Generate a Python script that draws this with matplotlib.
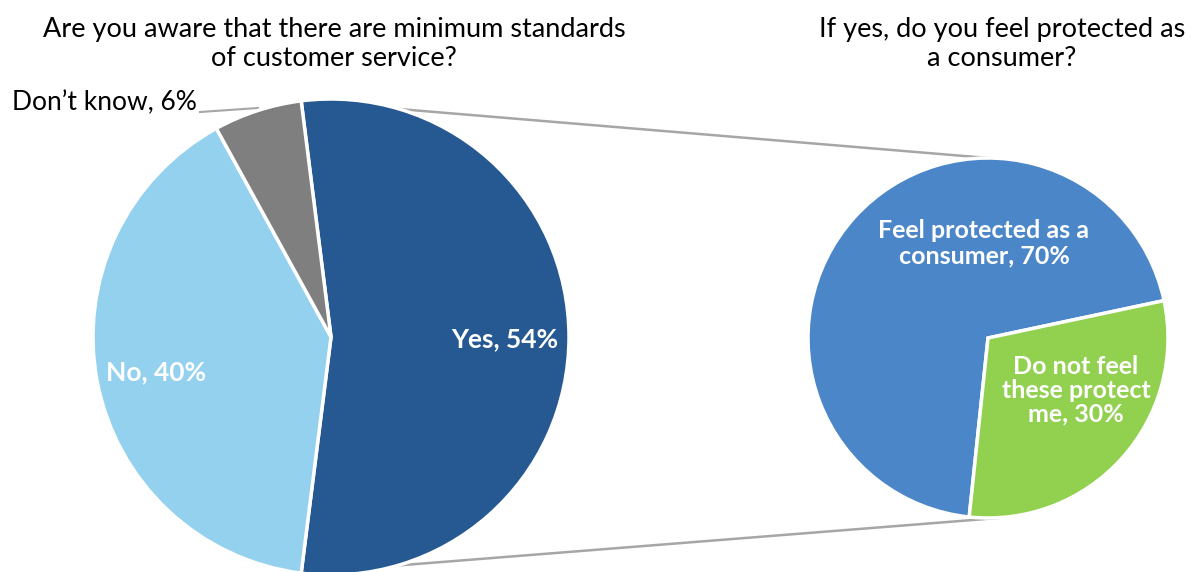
import matplotlib.pyplot as plt
import numpy as np

# main pie
main_labels = ["Yes, 54%", "No, 40%", "Don\u2019t know, 6%"]
main_values = [54, 40, 6]
main_colors = ["#265892", "#93d1ee", "#7f7f7f"]

# breakdown of "Yes"
sub_labels = ["Feel protected as a\nconsumer, 70%", "Do not feel\nthese protect\nme, 30%"]
sub_values = [70, 30]
sub_colors = ["#4a86c8", "#92d050"]

plt.rcParams['font.family'] = ['Lato', 'DejaVu Sans']

W, H = 1192, 572
fig = plt.figure(figsize=(W / 100, H / 100), dpi=100)
ax = fig.add_axes([0, 0, 1, 1])

c1 = (331, H - 337)
r1 = 238
c2 = (988, H - 338)
r2 = 180

yes_half = main_values[0] / 100 * 360 / 2

wedges1, _ = ax.pie(main_values, colors=main_colors, center=c1, radius=r1,
                    startangle=yes_half, counterclock=False,
                    wedgeprops=dict(edgecolor='white', linewidth=2.5))
for w in wedges1:
    w.set_zorder(2)

# green wedge ends at about -96 deg, so start the blue one there
wedges2, _ = ax.pie(sub_values, colors=sub_colors, center=c2, radius=r2,
                    startangle=-96, counterclock=False,
                    wedgeprops=dict(edgecolor='white', linewidth=2.5))
for w in wedges2:
    w.set_zorder(2)

ax.set_xlim(0, W)
ax.set_ylim(0, H)
ax.set_aspect('equal')
ax.axis('off')

# connector lines from the Yes wedge to the second pie
a = np.deg2rad(yes_half)
top1 = (c1[0] + r1 * np.cos(a), c1[1] + r1 * np.sin(a))
bot1 = (c1[0] + r1 * np.cos(-a), c1[1] + r1 * np.sin(-a))
ax.plot([top1[0], c2[0]], [top1[1], c2[1] + r2], color='#a6a6a6', lw=1.8, zorder=1)
ax.plot([bot1[0], c2[0] + 10], [bot1[1], c2[1] - r2], color='#a6a6a6', lw=1.8, zorder=1)

# labels
ax.text(505, H - 339, main_labels[0], color='white', fontsize=19, fontweight='bold',
        ha='center', va='center', zorder=3)
ax.text(156, H - 372, main_labels[1], color='white', fontsize=19, fontweight='bold',
        ha='center', va='center', zorder=3)
ax.text(197, H - 103, main_labels[2], color='black', fontsize=19,
        ha='right', va='center', zorder=3)
ax.plot([200, 258], [H - 112, H - 108], color='#a6a6a6', lw=1.5, zorder=1)

ax.text(984, H - 243, sub_labels[0], color='white', fontsize=18, fontweight='bold',
        ha='center', va='center', linespacing=1.1, zorder=3)
ax.text(1076, H - 390, sub_labels[1], color='white', fontsize=18, fontweight='bold',
        ha='center', va='center', linespacing=1.05, zorder=3)

# titles
ax.text(334, H - 44, "Are you aware that there are minimum standards\nof customer service?",
        fontsize=19.5, ha='center', va='center', linespacing=1.15)
ax.text(1002, H - 44, "If yes, do you feel protected as\na consumer?",
        fontsize=19.5, ha='center', va='center', linespacing=1.15)

fig.savefig('out.png', dpi=100)
